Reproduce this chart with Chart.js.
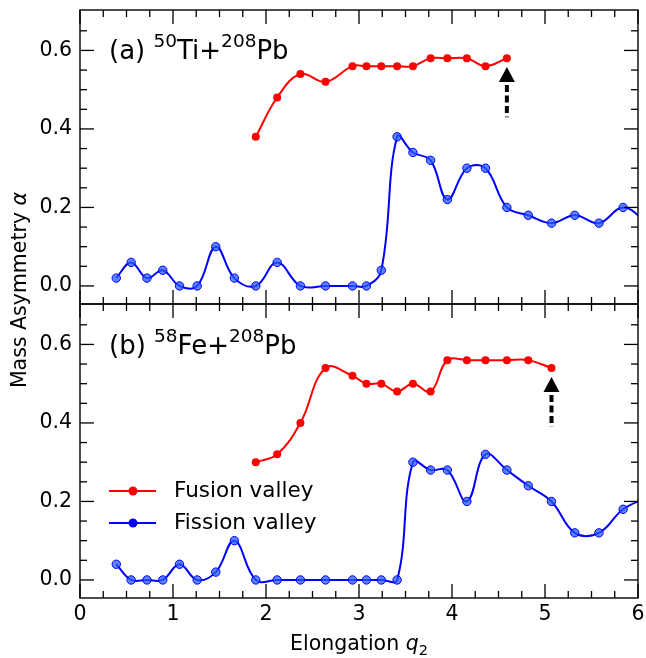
<!DOCTYPE html>
<html>
<head>
<meta charset="utf-8">
<script src="https://cdn.jsdelivr.net/npm/chart.js@4.4.1/dist/chart.umd.min.js"></script>
<style>
  html, body { margin: 0; padding: 0; background: #fff; }
</style>
</head>
<body>
<canvas id="massChart" width="646" height="658"></canvas>
<script>
// elongation grid shared by every curve (last value sits just past the frame)
const q2 = [0.39, 0.55, 0.72, 0.89, 1.07, 1.26, 1.46, 1.66, 1.89, 2.12, 2.37, 2.64, 2.93, 3.08,
            3.24, 3.41, 3.58, 3.77, 3.95, 4.16, 4.36, 4.59, 4.82, 5.07, 5.32, 5.58, 5.84, 6.10];
const fusionStart = 8; // fusion valley starts at q2 = 1.89

const fusionTi  = [0.38, 0.48, 0.54, 0.52, 0.56, 0.56, 0.56, 0.56, 0.56, 0.58, 0.58, 0.58, 0.56, 0.58];
const fissionTi = [0.02, 0.06, 0.02, 0.04, 0.00, 0.00, 0.10, 0.02, 0.00, 0.06, 0.00, 0.00, 0.00, 0.00,
                   0.04, 0.38, 0.34, 0.32, 0.22, 0.30, 0.30, 0.20, 0.18, 0.16, 0.18, 0.16, 0.20, 0.16];
const fusionFe  = [0.30, 0.32, 0.40, 0.54, 0.52, 0.50, 0.50, 0.48, 0.50, 0.48, 0.56, 0.56, 0.56, 0.56, 0.56, 0.54];
const fissionFe = [0.04, 0.00, 0.00, 0.00, 0.04, 0.00, 0.02, 0.10, 0.00, 0.00, 0.00, 0.00, 0.00, 0.00,
                   0.00, 0.00, 0.30, 0.28, 0.28, 0.20, 0.32, 0.28, 0.24, 0.20, 0.12, 0.12, 0.18, 0.21];

const xTicks = [0, 1, 2, 3, 4, 5, 6];
const yTicks = [0.0, 0.2, 0.4, 0.6];

// scission arrows: q2 position, tip and tail in alpha
const arrowQ    = [4.59, 5.07];
const arrowTip  = [0.558, 0.517];
const arrowTail = [0.43, 0.39];

const Y_MIN = -0.046, Y_MAX = 0.703;
const FONT = 'DejaVu Sans';
const RED = '#ff0000', BLUE = '#0000ff';

const pts = (ys, start) => ys.map((v, i) => ({ x: q2[start + i], y: v }));

function fusionSet(ys, axis, label) {
  return {
    label, data: pts(ys, fusionStart), yAxisID: axis,
    borderColor: RED, backgroundColor: RED, borderWidth: 2,
    pointRadius: 4, pointBorderWidth: 0, pointBackgroundColor: RED,
    tension: 0.4
  };
}
function fissionSet(ys, axis, label) {
  return {
    label, data: pts(ys, 0), yAxisID: axis,
    borderColor: BLUE, backgroundColor: BLUE, borderWidth: 2,
    pointRadius: 4.2, pointBorderWidth: 1, pointBorderColor: BLUE,
    pointBackgroundColor: 'rgba(40,90,255,0.75)',
    tension: 0.4
  };
}

function noPad(s) {
  s.paddingTop = 0; s.paddingBottom = 0; s.paddingLeft = 0; s.paddingRight = 0;
}

function yScale(stackWeight) {
  return {
    type: 'linear', position: 'left', stack: 'panels', stackWeight,
    min: Y_MIN, max: Y_MAX,
    grid: { display: false, drawTicks: false }, border: { display: false },
    ticks: { color: '#000', font: { family: FONT, size: 20.5 }, padding: 8,
             callback: v => v.toFixed(1) },
    afterBuildTicks: s => { s.ticks = yTicks.map(v => ({ value: v })); },
    afterFit: s => { s.width = 80; noPad(s); }
  };
}

function line(ctx, x1, y1, x2, y2) {
  ctx.beginPath(); ctx.moveTo(x1, y1); ctx.lineTo(x2, y2); ctx.stroke();
}

// mixed-style text: parts = [text, font, dy]
function drawRuns(ctx, parts, x, y) {
  let cx = x;
  parts.forEach(([t, f, dy]) => {
    ctx.font = f; ctx.fillText(t, cx, y + (dy || 0)); cx += ctx.measureText(t).width;
  });
  return cx - x;
}
function runsWidth(ctx, parts) {
  return parts.reduce((w, [t, f]) => { ctx.font = f; return w + ctx.measureText(t).width; }, 0);
}

const decor = {
  id: 'decor',
  afterDraw(chart) {
    const ctx = chart.ctx, xs = chart.scales.x;
    const panels = [chart.scales.yTop, chart.scales.yBot];
    ctx.save();
    ctx.strokeStyle = '#000'; ctx.fillStyle = '#000';

    // frames and inward ticks
    panels.forEach(ys => {
      const L = xs.left, R = xs.right, T = ys.top, B = ys.bottom;
      ctx.lineWidth = 1.4;
      ctx.strokeRect(L, T, R - L, B - T);
      ctx.lineWidth = 1.3;
      for (let k = 0; k <= 24; k++) {
        const px = xs.getPixelForValue(k * 0.25), len = k % 4 === 0 ? 14 : 7;
        line(ctx, px, T, px, T + len); line(ctx, px, B, px, B - len);
      }
      for (let k = -1; k <= 14; k++) {
        const v = k * 0.05;
        if (v <= ys.min || v >= ys.max - 0.005) continue;
        const py = ys.getPixelForValue(v), len = k % 4 === 0 ? 14 : 7;
        line(ctx, L, py, L + len, py); line(ctx, R, py, R - len, py);
      }
    });

    // arrows
    arrowQ.forEach((q, i) => {
      const ys = panels[i], px = xs.getPixelForValue(q);
      const tip = ys.getPixelForValue(arrowTip[i]), tail = ys.getPixelForValue(arrowTail[i]);
      ctx.beginPath();
      ctx.moveTo(px, tip); ctx.lineTo(px - 8, tip + 15); ctx.lineTo(px + 8, tip + 15);
      ctx.closePath(); ctx.fill();
      ctx.lineWidth = 4; ctx.setLineDash([7, 3.5]);
      line(ctx, px, tip + 18, px, tail);
      ctx.setLineDash([]);
    });

    // panel labels
    ctx.textBaseline = 'alphabetic'; ctx.textAlign = 'left';
    const big = `26px "${FONT}"`, sup = `18.5px "${FONT}"`;
    drawRuns(ctx, [['(a) ', big], ['50', sup, -12], ['Ti+', big], ['208', sup, -12], ['Pb', big]],
             109, panels[0].top + 49);
    drawRuns(ctx, [['(b) ', big], ['58', sup, -12], ['Fe+', big], ['208', sup, -12], ['Pb', big]],
             109, panels[1].top + 50);

    // legend (bottom panel datasets)
    const legendSets = [chart.data.datasets[2], chart.data.datasets[3]];
    legendSets.forEach((ds, i) => {
      const ry = 491 + i * 32;
      ctx.strokeStyle = ds.borderColor; ctx.fillStyle = ds.borderColor; ctx.lineWidth = 2;
      line(ctx, 109, ry, 156, ry);
      ctx.beginPath(); ctx.arc(133, ry, 4.5, 0, Math.PI * 2); ctx.fill();
      ctx.fillStyle = '#000'; ctx.font = `21.5px "${FONT}"`; ctx.textBaseline = 'middle';
      ctx.fillText(ds.label, 174, ry);
    });

    // axis titles
    ctx.fillStyle = '#000'; ctx.textBaseline = 'alphabetic';
    const lab = `20.5px "${FONT}"`, ital = `italic 20.5px "${FONT}"`, sub = `14.5px "${FONT}"`;
    const xParts = [['Elongation ', lab], ['q', ital], ['2', sub, 5]];
    const xw = runsWidth(ctx, xParts);
    drawRuns(ctx, xParts, (xs.left + xs.right) / 2 - xw / 2, 650);

    const yParts = [['Mass Asymmetry ', lab], ['α', ital]];
    const yw = runsWidth(ctx, yParts);
    ctx.translate(26, 290); ctx.rotate(-Math.PI / 2);
    drawRuns(ctx, yParts, -yw / 2, 0);
    ctx.restore();
  }
};

new Chart(document.getElementById('massChart'), {
  type: 'line',
  data: {
    datasets: [
      fusionSet(fusionTi, 'yTop', 'Fusion valley'),
      fissionSet(fissionTi, 'yTop', 'Fission valley'),
      fusionSet(fusionFe, 'yBot', 'Fusion valley'),
      fissionSet(fissionFe, 'yBot', 'Fission valley')
    ]
  },
  options: {
    responsive: false, animation: false, devicePixelRatio: 1,
    layout: { padding: { top: 10, right: 8, left: 0, bottom: 0 } },
    plugins: { legend: { display: false }, tooltip: { enabled: false } },
    scales: {
      x: {
        type: 'linear', min: 0, max: 6,
        grid: { display: false, drawTicks: false }, border: { display: false },
        ticks: { color: '#000', font: { family: FONT, size: 20.5 }, padding: 4 },
        afterBuildTicks: s => { s.ticks = xTicks.map(v => ({ value: v })); },
        afterFit: s => { s.height = 60; noPad(s); }
      },
      yBot: yScale(1),
      yTop: yScale(1)
    }
  },
  plugins: [decor]
});
</script>
</body>
</html>
